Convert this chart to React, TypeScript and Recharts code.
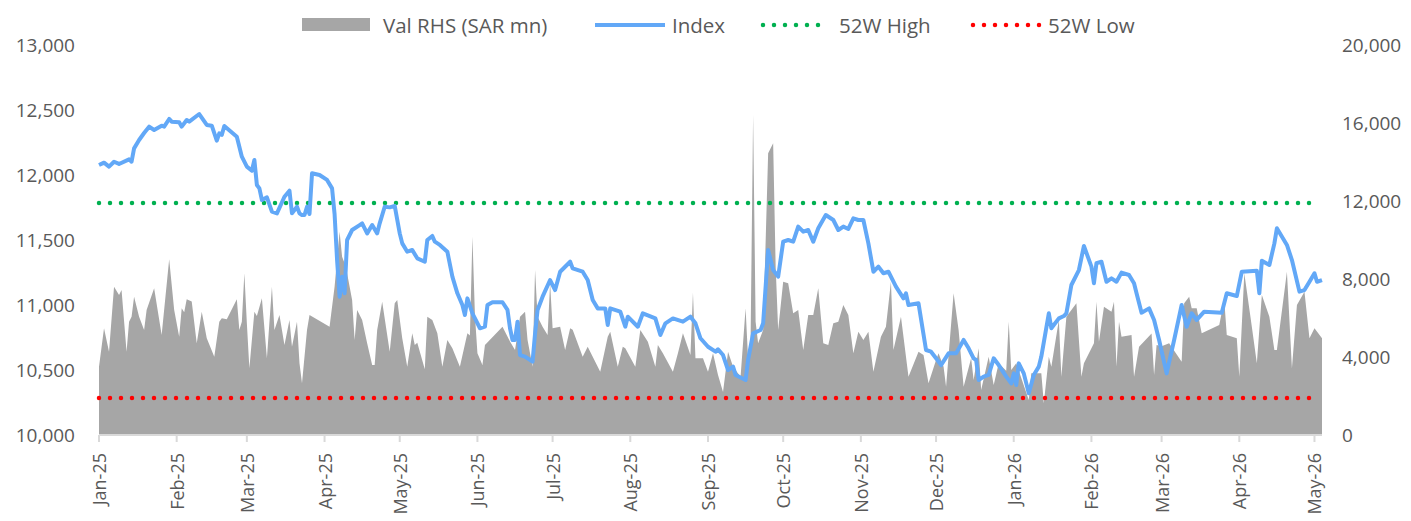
import {
  Area,
  ComposedChart,
  Line,
  XAxis,
  YAxis,
} from "recharts";

// days counted from 1 Jan 2025
const monthTickDays = [0, 31, 59, 90, 120, 151, 181, 212, 243, 273, 304, 334, 365, 396, 424, 455, 485];
const monthTickLabels = [
  "Jan-25", "Feb-25", "Mar-25", "Apr-25", "May-25", "Jun-25", "Jul-25", "Aug-25", "Sep-25",
  "Oct-25", "Nov-25", "Dec-25", "Jan-26", "Feb-26", "Mar-26", "Apr-26", "May-26",
];

const leftTicks = [10000, 10500, 11000, 11500, 12000, 12500, 13000];
const rightTicks = [0, 4000, 8000, 12000, 16000, 20000];

const high52w = 11785;
const low52w = 10285;
const refLineEndDay = 486;

// [day, index level]
const indexSeries: [number, number][] = [
  [0, 12077], [2, 12095], [4, 12064], [6, 12102], [8, 12085], [12, 12120], [13, 12102], [14, 12205],
  [16, 12269], [18, 12323], [20, 12372], [22, 12346], [25, 12379], [26, 12372], [28, 12431], [29, 12410],
  [32, 12405], [33, 12372], [35, 12423], [36, 12410], [40, 12469], [43, 12385], [45, 12379], [47, 12264],
  [48, 12321], [49, 12308], [50, 12377], [55, 12295], [57, 12141], [59, 12064], [61, 12033], [62, 12115],
  [63, 11923], [64, 11897], [65, 11808], [67, 11828], [69, 11718], [71, 11705], [74, 11833], [76, 11879],
  [77, 11705], [79, 11756], [80, 11705], [81, 11692], [82, 11692], [83, 11756], [84, 11700], [85, 12013],
  [88, 12000], [91, 11962], [93, 11897], [94, 11700], [95, 11346], [96, 11064], [97, 11218], [98, 11090],
  [99, 11500], [101, 11577], [104, 11615], [105, 11628], [107, 11551], [109, 11615], [111, 11551], [112, 11628],
  [114, 11756], [116, 11751], [118, 11762], [120, 11551], [121, 11474], [123, 11410], [125, 11423], [127, 11359],
  [130, 11333], [131, 11500], [133, 11531], [134, 11487], [136, 11462], [139, 11410], [141, 11218], [143, 11090],
  [145, 11000], [146, 10923], [147, 11051], [149, 10936], [152, 10821], [154, 10833], [155, 11000], [157, 11021],
  [161, 11021], [163, 10962], [164, 10821], [165, 10731], [166, 10731], [167, 10872], [168, 10615], [170, 10603],
  [173, 10564], [174, 10782], [175, 10962], [177, 11064], [180, 11192], [182, 11115], [184, 11256], [188, 11333],
  [189, 11282], [193, 11256], [195, 11192], [197, 11038], [199, 10974], [202, 10974], [203, 10846], [204, 10974],
  [208, 10949], [210, 10833], [211, 10910], [215, 10833], [217, 10936], [222, 10897], [224, 10769], [226, 10859],
  [229, 10897], [233, 10872], [236, 10910], [238, 10859], [240, 10744], [243, 10679], [246, 10641], [247, 10659],
  [249, 10615], [251, 10500], [253, 10526], [254, 10462], [258, 10423], [259, 10577], [261, 10782], [264, 10808],
  [265, 10859], [267, 11423], [269, 11269], [271, 11218], [273, 11487], [275, 11500], [277, 11487], [279, 11603],
  [281, 11564], [283, 11577], [285, 11487], [287, 11590], [290, 11692], [293, 11654], [295, 11577], [297, 11603],
  [299, 11585], [301, 11667], [303, 11654], [305, 11654], [307, 11474], [309, 11256], [311, 11295], [313, 11244],
  [315, 11256], [318, 11141], [321, 11051], [322, 11090], [323, 11000], [327, 11013], [330, 10654], [332, 10641],
  [334, 10590], [336, 10538], [339, 10628], [342, 10628], [345, 10731], [347, 10667], [349, 10590], [350, 10577],
  [351, 10423], [353, 10449], [355, 10462], [357, 10590], [359, 10538], [362, 10449], [364, 10397], [365, 10474],
  [366, 10385], [367, 10551], [369, 10474], [371, 10321], [373, 10462], [375, 10526], [376, 10603], [379, 10936],
  [380, 10821], [383, 10897], [385, 10915], [386, 10936], [388, 11154], [391, 11269], [393, 11454], [396, 11295],
  [397, 11167], [398, 11321], [400, 11333], [402, 11179], [404, 11205], [406, 11179], [408, 11249], [411, 11231],
  [413, 11167], [414, 11090], [416, 10941], [419, 10974], [421, 10885], [423, 10731], [426, 10474], [429, 10731],
  [432, 11000], [434, 10833], [436, 10936], [438, 10885], [441, 10949], [448, 10941], [450, 11090], [454, 11069],
  [456, 11256], [462, 11264], [463, 11090], [464, 11341], [467, 11308], [469, 11474], [470, 11590], [474, 11462],
  [476, 11346], [479, 11103], [481, 11115], [483, 11179], [485, 11244], [486, 11179], [488, 11192],
];

// [day, traded value SAR mn]
const valueSeries: [number, number][] = [
  [0, 3503], [2, 5470], [4, 4270], [6, 7605], [8, 7180], [9, 7436], [11, 4270], [12, 5810], [13, 6067],
  [14, 7092], [16, 6067], [18, 5385], [19, 6410], [22, 7523], [25, 5128], [28, 9010], [30, 6410], [32, 5041],
  [33, 6497], [34, 6300], [35, 6959], [37, 6850], [39, 4702], [41, 6323], [43, 4959], [46, 4015], [48, 5810],
  [49, 5984], [51, 5930], [55, 6959], [56, 5385], [57, 5810], [58, 8292], [59, 5728], [60, 3420], [62, 6323],
  [63, 6100], [65, 7010], [67, 3933], [69, 7605], [70, 5385], [72, 6154], [74, 4615], [76, 5897], [77, 4528],
  [79, 5810], [80, 3677], [81, 2651], [83, 5385], [84, 6154], [92, 5554], [94, 7605], [96, 10425], [97, 9143],
  [98, 8805], [99, 8292], [101, 6923], [102, 4872], [103, 6410], [105, 5897], [107, 4702], [109, 3590],
  [110, 3590], [111, 5385], [113, 6836], [116, 4272], [118, 6754], [119, 6923], [121, 4959], [123, 3503],
  [125, 5215], [126, 4615], [127, 4733], [130, 3369], [131, 6067], [133, 5897], [135, 5215], [137, 3503],
  [139, 4872], [141, 4446], [144, 3503], [147, 5215], [148, 5100], [149, 10169], [150, 6154], [151, 4190],
  [153, 3590], [154, 4615], [161, 5554], [164, 4800], [166, 4359], [168, 6067], [170, 6323], [171, 4872],
  [173, 3503], [174, 8462], [175, 6067], [177, 5554], [179, 5128], [180, 7780], [181, 5472], [184, 5554],
  [186, 4359], [188, 5472], [189, 5400], [193, 4015], [195, 4528], [197, 4015], [200, 3246], [203, 5041],
  [204, 5297], [207, 3503], [209, 4528], [210, 4446], [214, 3503], [216, 5385], [219, 4785], [222, 3503],
  [223, 4615], [225, 4190], [229, 3246], [231, 4190], [233, 5215], [236, 4103], [237, 7297], [238, 3933],
  [241, 3933], [243, 3246], [245, 4190], [247, 3077], [249, 2205], [251, 4272], [253, 3503], [256, 2990],
  [258, 6497], [259, 3900], [260, 4872], [261, 16410], [262, 5810], [263, 4702], [265, 5385], [267, 14446],
  [269, 14959], [270, 8631], [271, 5385], [273, 7862], [275, 7780], [277, 6241], [279, 6410], [281, 4359],
  [283, 6154], [285, 6154], [287, 7523], [289, 4702], [291, 4615], [293, 5728], [295, 5810], [297, 6667],
  [299, 6154], [301, 4190], [303, 5297], [305, 4872], [307, 5297], [309, 3246], [312, 5041], [314, 5554],
  [316, 7862], [317, 4359], [320, 6067], [323, 2990], [327, 4272], [329, 4103], [331, 2651], [334, 3846],
  [335, 4190], [337, 3503], [338, 2477], [341, 7266], [343, 5385], [345, 2477], [348, 3933], [349, 2820],
  [351, 4446], [352, 2308], [355, 4015], [357, 2564], [359, 3677], [361, 3420], [362, 3300], [363, 5810],
  [364, 3333], [366, 3677], [371, 1795], [372, 3164], [376, 3164], [377, 1626], [379, 4015], [380, 3503],
  [383, 5897], [384, 2990], [386, 6067], [390, 6754], [392, 2990], [393, 3677], [397, 4702], [398, 6836],
  [399, 4785], [401, 6580], [404, 6323], [405, 6836], [406, 3503], [407, 5810], [408, 5041], [412, 5128],
  [413, 2990], [415, 4528], [420, 5200], [421, 3077], [422, 4615], [424, 4550], [427, 4702], [432, 3759],
  [433, 6754], [435, 7092], [436, 6497], [438, 6497], [440, 5215], [447, 5641], [449, 6923], [450, 5128],
  [454, 4959], [455, 2990], [457, 8292], [460, 5554], [462, 3677], [464, 7180], [467, 6067], [469, 4359],
  [470, 4359], [474, 8375], [476, 3420], [478, 6667], [481, 7349], [483, 4959], [485, 5472], [488, 4959],
];

type Row = { day: number; index?: number; val?: number; high?: number; low?: number };

function buildRows(): Row[] {
  const byDay = new Map<number, Row>();
  const get = (d: number) => {
    if (!byDay.has(d)) byDay.set(d, { day: d });
    return byDay.get(d)!;
  };
  indexSeries.forEach(([d, v]) => (get(d).index = v));
  valueSeries.forEach(([d, v]) => (get(d).val = v));
  get(refLineEndDay);
  const rows = Array.from(byDay.values()).sort((a, b) => a.day - b.day);
  rows.forEach((r) => {
    if (r.day <= refLineEndDay) {
      r.high = high52w;
      r.low = low52w;
    }
  });
  return rows;
}

const rows = buildRows();

const FONT = "'Open Sans', 'Noto Sans', sans-serif";
const TEXT = "#595959";
const GREY = "#a6a6a6";
const BLUE = "#62a8f7";
const GREEN = "#00b050";
const RED = "#ff0000";

function MonthTick(props: any) {
  const { x, y, payload } = props;
  const i = monthTickDays.indexOf(payload.value);
  return (
    <g transform={`translate(${x},${y})`}>
      <text
        transform="rotate(-90)"
        textAnchor="end"
        dominantBaseline="central"
        fill={TEXT}
        fontSize={18}
        fontFamily={FONT}
      >
        {i >= 0 ? monthTickLabels[i] : ""}
      </text>
    </g>
  );
}

function DotRow({ x1, x2, color }: { x1: number; x2: number; color: string }) {
  return (
    <line
      x1={x1}
      x2={x2}
      y1={25}
      y2={25}
      stroke={color}
      strokeWidth={4.5}
      strokeLinecap="round"
      strokeDasharray="0 11"
    />
  );
}

function TopLegend() {
  const t = { fill: TEXT, fontSize: 20.5, fontFamily: FONT, dominantBaseline: "central" as const };
  return (
    <svg width={1411} height={45} style={{ position: "absolute", left: 0, top: 0 }}>
      <rect x={302} y={18} width={68} height={13} fill={GREY} />
      <text x={383} y={25} {...t}>Val RHS (SAR mn)</text>
      <line x1={595} x2={665} y1={25} y2={25} stroke={BLUE} strokeWidth={4} />
      <text x={672} y={25} {...t}>Index</text>
      <DotRow x1={763} x2={829} color={GREEN} />
      <text x={839} y={25} {...t}>52W High</text>
      <DotRow x1={973} x2={1040} color={RED} />
      <text x={1048} y={25} {...t}>52W Low</text>
    </svg>
  );
}

export default function App() {
  const tickStyle = { fill: TEXT, fontSize: 19, fontFamily: FONT };
  return (
    <div style={{ position: "relative", width: 1411, height: 521, background: "#fff" }}>
      <style>{"body{margin:0}"}</style>
      <ComposedChart
        width={1411}
        height={521}
        data={rows}
        margin={{ top: 45, right: 0, bottom: 0, left: 0 }}
      >
        <XAxis
          dataKey="day"
          type="number"
          domain={[0, 488]}
          ticks={monthTickDays}
          interval={0}
          height={86}
          tick={<MonthTick />}
          tickSize={7}
          tickMargin={11}
          axisLine={{ stroke: "#d9d9d9", strokeWidth: 2 }}
          tickLine={{ stroke: "#d9d9d9", strokeWidth: 2 }}
        />
        <YAxis
          yAxisId="left"
          orientation="left"
          width={99}
          domain={[10000, 13000]}
          ticks={leftTicks}
          tickFormatter={(v) => Number(v).toLocaleString("en-US")}
          axisLine={false}
          tickLine={false}
          tickSize={0}
          tickMargin={24}
          tick={tickStyle}
        />
        <YAxis
          yAxisId="right"
          orientation="right"
          width={89}
          domain={[0, 20000]}
          ticks={rightTicks}
          tickFormatter={(v) => Number(v).toLocaleString("en-US")}
          axisLine={false}
          tickLine={false}
          tickSize={0}
          tickMargin={20}
          tick={{ ...tickStyle, textAnchor: "start" }}
        />
        <Area
          yAxisId="right"
          dataKey="val"
          type="linear"
          fill={GREY}
          fillOpacity={1}
          stroke="none"
          connectNulls
          isAnimationActive={false}
        />
        <Line
          yAxisId="left"
          dataKey="high"
          type="linear"
          stroke={GREEN}
          strokeWidth={4.5}
          strokeLinecap="round"
          strokeDasharray="0 11"
          dot={false}
          connectNulls
          isAnimationActive={false}
        />
        <Line
          yAxisId="left"
          dataKey="low"
          type="linear"
          stroke={RED}
          strokeWidth={4.5}
          strokeLinecap="round"
          strokeDasharray="0 11"
          dot={false}
          connectNulls
          isAnimationActive={false}
        />
        <Line
          yAxisId="left"
          dataKey="index"
          type="linear"
          stroke={BLUE}
          strokeWidth={4}
          strokeLinejoin="round"
          dot={false}
          connectNulls
          isAnimationActive={false}
        />
      </ComposedChart>
      <TopLegend />
    </div>
  );
}
